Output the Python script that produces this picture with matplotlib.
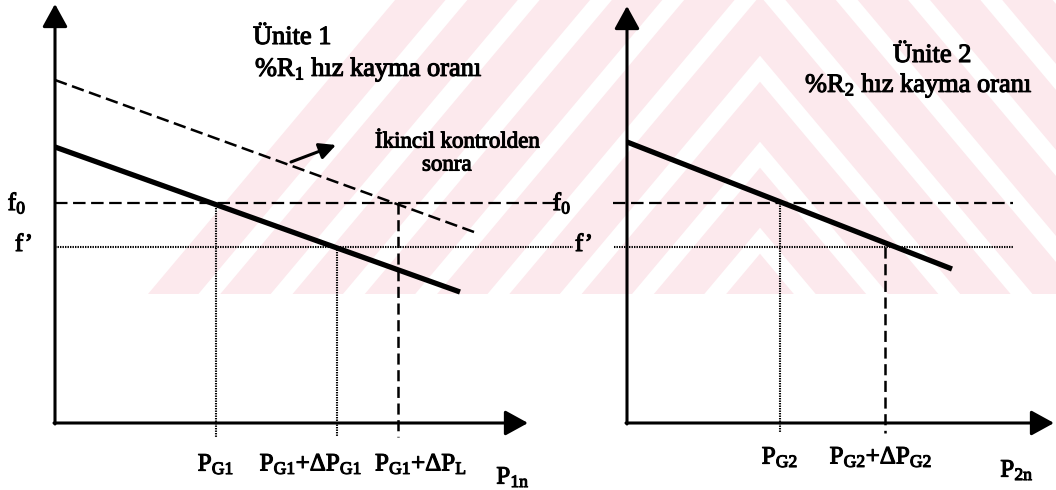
import matplotlib
matplotlib.use("Agg")
import matplotlib.pyplot as plt
from matplotlib import patheffects
from matplotlib.patches import Polygon, Rectangle

plt.rcParams["font.family"] = ["Liberation Serif", "DejaVu Serif"]
plt.rcParams["mathtext.fontset"] = "custom"
plt.rcParams["mathtext.rm"] = "Liberation Serif"
plt.rcParams["mathtext.it"] = "Liberation Serif:italic"
plt.rcParams["mathtext.bf"] = "Liberation Serif:bold"
plt.rcParams["lines.scale_dashes"] = False
plt.rcParams["lines.solid_capstyle"] = "butt"

# frequency levels, shared by both units
F0 = 220
F_NEW = 176

# unit 1: droop line before / after secondary control
P_G1 = 161
P_G1_DPG1 = 282
P_G1_DPL = 343
DROOP1_X = [0, 405]
DROOP1_Y = [276, 131]
SHIFTED1_X = [0, 419]
SHIFTED1_Y = [343, 191]

# unit 2
P_G2 = 153
P_G2_DPG2 = 258
DROOP2_X = [0, 325]
DROOP2_Y = [281, 154]

DASH = (0, (9, 4))
DOT = (0, (1, 0.8))
FS = 18
INK = [patheffects.withStroke(linewidth=0.8, foreground="black")]
PINK = "#fce9ed"


def label(ax, x, y, s, size=FS, ha="center", **kw):
    ax.text(x, y, s, fontsize=size, ha=ha, va="center", path_effects=INK,
            clip_on=False, **kw)


def draw_axes(ax, x_tip, y_tip):
    head = "-|>,head_length=1,head_width=0.55"
    for tip, tail in (((0, y_tip), (0, -1)), ((x_tip, 0), (-1, 0))):
        ax.annotate("", xy=tip, xytext=tail,
                    arrowprops=dict(arrowstyle=head, mutation_scale=14, lw=2.2,
                                    color="black", shrinkA=0, shrinkB=0),
                    annotation_clip=False)


fig = plt.figure(figsize=(10.56, 4.90), dpi=100)

# faint striped chevron watermark in the background (figure pixel units)
bg = fig.add_axes([0, 0, 1, 1], zorder=-1)
bg.set_xlim(0, 1056)
bg.set_ylim(490, 0)
bg.axis("off")
apex_x, slope, band, gap, bottom = 760, 1.19, 60, 26, 294
clip = Rectangle((0, 0), 1056, bottom, transform=bg.transData)
top = bottom - slope * (apex_x - 148)
reach = 1200
while top < bottom:
    pts = [(apex_x - reach, top + slope * reach), (apex_x, top),
           (apex_x + reach, top + slope * reach),
           (apex_x + reach, top + band + slope * reach), (apex_x, top + band),
           (apex_x - reach, top + band + slope * reach)]
    stripe = Polygon(pts, closed=True, fc=PINK, ec="none")
    bg.add_patch(stripe)
    stripe.set_clip_path(clip)
    top += band + gap

ax1 = fig.add_axes([0, 0, 540 / 1056, 1])
ax2 = fig.add_axes([540 / 1056, 0, 516 / 1056, 1])
ax1.set_xlim(-55, 485)
ax2.set_xlim(-87, 429)
for ax in (ax1, ax2):
    ax.set_ylim(-67, 423)
    ax.axis("off")

# ---- unit 1 ----
draw_axes(ax1, 473, 419)
ax1.plot([0, 500], [F0, F0], color="black", lw=1.6, ls=DASH, clip_on=False)
ax1.plot([0, 518], [F_NEW, F_NEW], color="black", lw=1.5, ls=DOT, clip_on=False)
ax1.plot([P_G1, P_G1], [F0, -14], color="black", lw=1.5, ls=DOT)
ax1.plot([P_G1_DPG1, P_G1_DPG1], [F_NEW, -14], color="black", lw=1.5, ls=DOT)
ax1.plot([P_G1_DPL, P_G1_DPL], [F0, -14], color="black", lw=1.8, ls=(0, (8, 4)))
ax1.plot(SHIFTED1_X, SHIFTED1_Y, color="black", lw=1.8, ls=DASH)
ax1.plot(DROOP1_X, DROOP1_Y, color="black", lw=3.8)

ax1.annotate("", xy=(281, 278), xytext=(236, 261),
             arrowprops=dict(arrowstyle="-|>,head_length=0.9,head_width=0.45",
                             mutation_scale=11, lw=2.2, color="black",
                             shrinkA=0, shrinkB=0))

label(ax1, 198, 385, "Ünite 1", size=19, ha="left")
label(ax1, 200, 353, "%R$_1$ hız kayma oranı", size=19, ha="left")
label(ax1, 320, 281, "İkincil kontrolden", size=16.5, ha="left")
label(ax1, 367, 258, "sonra", size=16.5, ha="left")
label(ax1, -38, F0, "f$_0$")
label(ax1, -31, F_NEW + 2, "f’")
label(ax1, P_G1, -41, "P$_{\\mathrm{G1}}$")
label(ax1, 256, -41, "P$_{\\mathrm{G1}}$+ΔP$_{\\mathrm{G1}}$")
label(ax1, 366, -41, "P$_{\\mathrm{G1}}$+ΔP$_{\\mathrm{L}}$")
label(ax1, 458, -54, "P$_{\\mathrm{1n}}$")

# ---- unit 2 ----
draw_axes(ax2, 427, 417)
ax2.plot([-14, 386], [F0, F0], color="black", lw=1.6, ls=DASH)
ax2.plot([-13, 386], [F_NEW, F_NEW], color="black", lw=1.5, ls=DOT)
ax2.plot([P_G2, P_G2], [F0, -10], color="black", lw=1.5, ls=DOT)
ax2.plot([P_G2_DPG2, P_G2_DPG2], [F_NEW, -10], color="black", lw=1.8, ls=(0, (8, 4)))
ax2.plot(DROOP2_X, DROOP2_Y, color="black", lw=3.8)

label(ax2, 266, 367, "Ünite 2", size=19, ha="left")
label(ax2, 178, 337, "%R$_2$ hız kayma oranı", size=19, ha="left")
label(ax2, -65, F0, "f$_0$")
label(ax2, -43, F_NEW + 2, "f’")
label(ax2, P_G2, -34, "P$_{\\mathrm{G2}}$")
label(ax2, 254, -34, "P$_{\\mathrm{G2}}$+ΔP$_{\\mathrm{G2}}$")
label(ax2, 390, -47, "P$_{\\mathrm{2n}}$")

fig.savefig("out.png", dpi=100)
